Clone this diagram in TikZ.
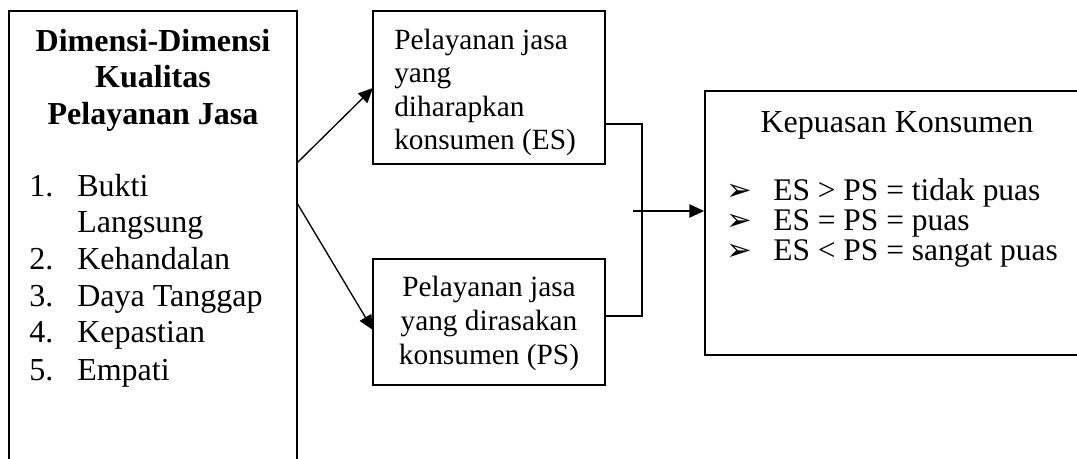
\documentclass[tikz,border=0pt]{standalone}
\usepackage{fontspec}
\setmainfont{Liberation Serif}
\newfontfamily\symfnt{DejaVu Sans}
\usetikzlibrary{arrows.meta,fit}
\begin{document}
\begin{tikzpicture}[x=0.75pt,y=-0.75pt,
  box/.style={draw, line width=1.4pt, inner sep=0pt},
  conn/.style={line width=1pt},
  arr/.style={conn, -{Triangle[length=11pt,width=10pt]}},
  txt/.style={font=\fontsize{24}{28}\selectfont, inner sep=0pt},
  ktxt/.style={font=\fontsize{23.6}{28}\selectfont, inner sep=0pt},
  stxt/.style={font=\fontsize{22}{26}\selectfont, inner sep=0pt},
  btxt/.style={font=\fontsize{24}{28}\selectfont\bfseries, inner sep=0pt},
  sym/.style={font=\fontsize{23}{28}\selectfont\symfnt, inner sep=0pt}]
\useasboundingbox (0,0) rectangle (1077,459);
\clip (0,0) rectangle (1077,459);
% boxes
\node[box, fit={(9,11) (297,475)}] (dim) {};
\node[box, fit={(373,11) (605,164)}] (es) {};
\node[box, fit={(373,259) (605,385)}] (ps) {};
\node[box, fit={(705,91) (1090,355)}] (kep) {};
% left box text
\node[btxt, anchor=base] (t1) at (153,52) {Dimensi-Dimensi};
\node[btxt, anchor=base] (t2) at (153,88) {Kualitas};
\node[btxt, anchor=base] (t3) at (153,125) {Pelayanan Jasa};
\node[txt, anchor=base west] (n1) at (29,197) {1.};
\node[txt, anchor=base west] (i1) at (77,197) {Bukti};
\node[txt, anchor=base west] (i1b) at (77,233) {Langsung};
\node[txt, anchor=base west] (n2) at (29,270) {2.};
\node[txt, anchor=base west] (i2) at (77,270) {Kehandalan};
\node[txt, anchor=base west] (n3) at (29,307) {3.};
\node[txt, anchor=base west] (i3) at (77,307) {Daya Tanggap};
\node[txt, anchor=base west] (n4) at (29,343) {4.};
\node[txt, anchor=base west] (i4) at (77,343) {Kepastian};
\node[txt, anchor=base west] (n5) at (29,380) {5.};
\node[txt, anchor=base west] (i5) at (77,380) {Empati};
% ES box text
\node[stxt, anchor=base west] (e1) at (394,50) {Pelayanan jasa};
\node[stxt, anchor=base west] (e2) at (394,83) {yang};
\node[stxt, anchor=base west] (e3) at (394,117) {diharapkan};
\node[stxt, anchor=base west] (e4) at (394,150) {konsumen (ES)};
% PS box text
\node[stxt, anchor=base] (p1) at (489,297) {Pelayanan jasa};
\node[stxt, anchor=base] (p2) at (489,330) {yang dirasakan};
\node[stxt, anchor=base] (p3) at (489,364) {konsumen (PS)};
% Kepuasan text
\node[txt, anchor=base] (k0) at (897,133) {Kepuasan Konsumen};
\node[sym, anchor=base west] (b1) at (726,201) {➢};
\node[ktxt, anchor=base west] (k1) at (773,201) {ES > PS = tidak puas};
\node[sym, anchor=base west] (b2) at (726,231) {➢};
\node[ktxt, anchor=base west] (k2) at (773,231) {ES = PS = puas};
\node[sym, anchor=base west] (b3) at (726,261) {➢};
\node[ktxt, anchor=base west] (k3) at (773,261) {ES < PS = sangat puas};
% connectors
\coordinate (d1) at (297,163);
\coordinate (d2) at (297,203);
\coordinate (es1) at (373,88);
\coordinate (ps1) at (373,330);
\coordinate (esr) at (605,124);
\coordinate (psr) at (605,316);
\coordinate (jn) at (642,124);
\coordinate (jn2) at (642,316);
\coordinate (src) at (633,211);
\draw[arr] (d1) -- (es1);
\draw[arr] (d2) -- (ps1);
\draw[conn] (esr) -- (jn) -- (jn2) -- (psr);
\draw[arr] (src) -- (kep.west |- src);
\end{tikzpicture}
\end{document}
